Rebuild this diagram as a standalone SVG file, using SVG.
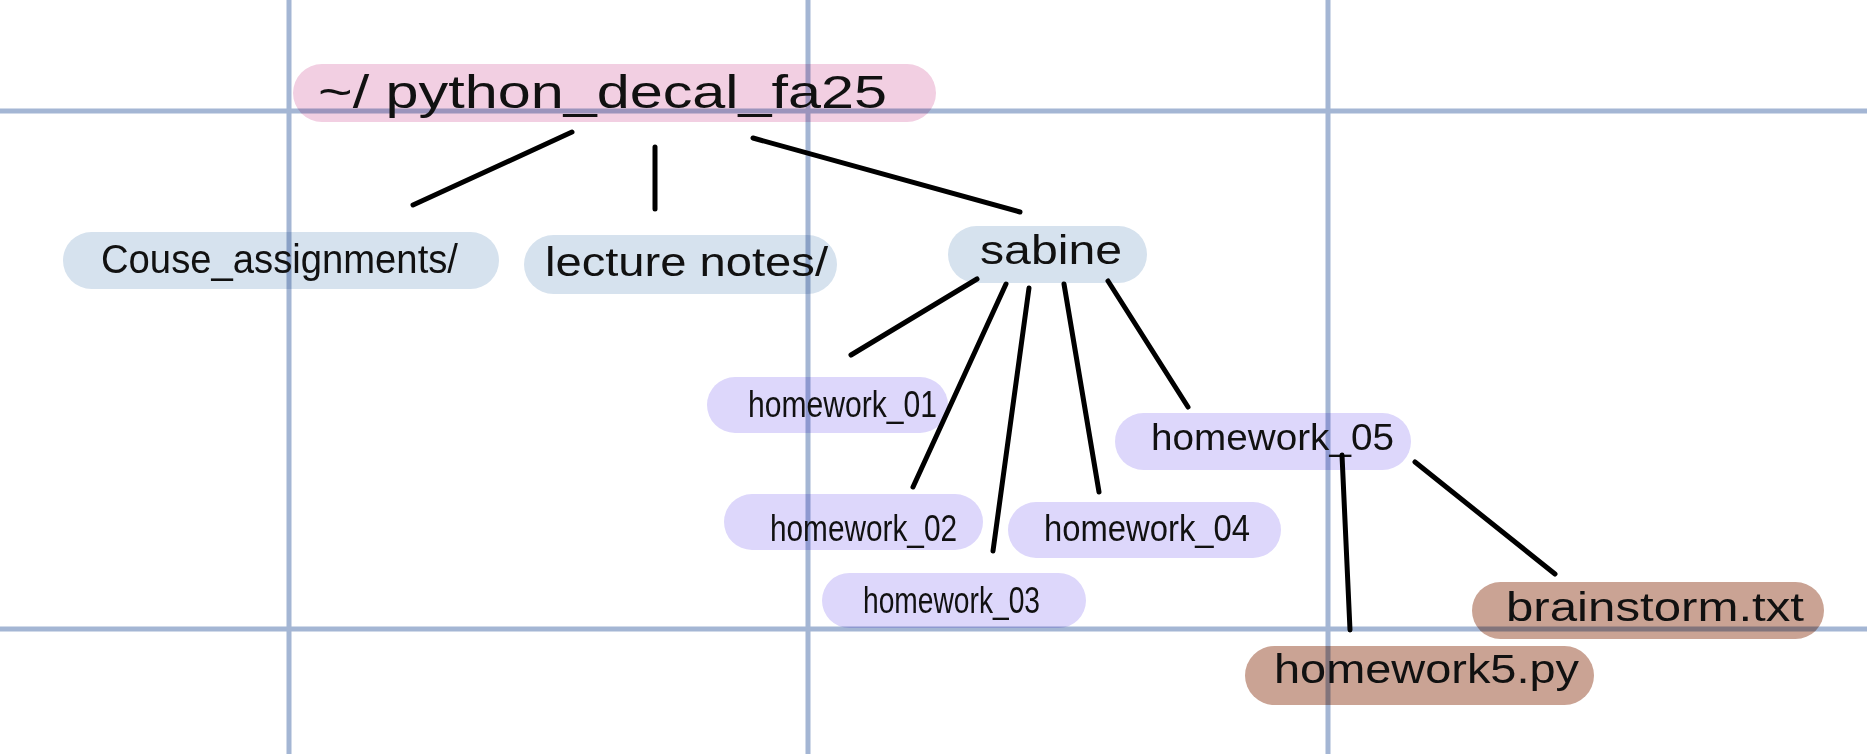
<svg xmlns="http://www.w3.org/2000/svg" width="1867" height="754" viewBox="0 0 1867 754">
<style>
.grid{stroke:#a4b6d4;stroke-width:5}
.pill{mix-blend-mode:multiply}
.root{fill:#f2cfe2}
.dir{fill:#d6e2ee}
.hw{fill:#ddd7fb}
.file{fill:#caa394}
.t{font-family:"Liberation Sans","DejaVu Sans",sans-serif;fill:#111;}
.conn{stroke:#000;stroke-width:5;stroke-linecap:round;fill:none}
</style>
<rect width="1867" height="754" fill="#ffffff"/>
<g id="grid">
<line class="grid" x1="289" y1="0" x2="289" y2="754"/>
<line class="grid" x1="808" y1="0" x2="808" y2="754"/>
<line class="grid" x1="1328" y1="0" x2="1328" y2="754"/>
<line class="grid" x1="0" y1="111" x2="1867" y2="111"/>
<line class="grid" x1="0" y1="629" x2="1867" y2="629"/>
</g>
<g id="node-root">
<rect class="pill root" x="293" y="64" width="643" height="58" rx="29"/>
<text class="t" x="318" y="108" font-size="46" textLength="569" lengthAdjust="spacingAndGlyphs">~/ python_decal_fa25</text>
</g>
<g id="node-course">
<rect class="pill dir" x="63" y="232" width="436" height="57" rx="28.5"/>
<text class="t" x="101" y="273" font-size="40" textLength="357" lengthAdjust="spacingAndGlyphs">Couse_assignments/</text>
</g>
<g id="node-lecture">
<rect class="pill dir" x="524" y="235" width="313" height="59" rx="29.5"/>
<text class="t" x="545" y="276" font-size="40" textLength="283" lengthAdjust="spacingAndGlyphs">lecture notes/</text>
</g>
<g id="node-sabine">
<rect class="pill dir" x="948" y="226" width="199" height="57" rx="28.5"/>
<text class="t" x="980" y="264" font-size="40" textLength="142" lengthAdjust="spacingAndGlyphs">sabine</text>
</g>
<g id="node-hw01">
<rect class="pill hw" x="707" y="377" width="241" height="56" rx="28"/>
<text class="t" x="748" y="417" font-size="36" textLength="189" lengthAdjust="spacingAndGlyphs">homework_01</text>
</g>
<g id="node-hw02">
<rect class="pill hw" x="724" y="494" width="259" height="56" rx="28"/>
<text class="t" x="770" y="541" font-size="36" textLength="187" lengthAdjust="spacingAndGlyphs">homework_02</text>
</g>
<g id="node-hw03">
<rect class="pill hw" x="822" y="573" width="264" height="55" rx="27.5"/>
<text class="t" x="863" y="613" font-size="36" textLength="177" lengthAdjust="spacingAndGlyphs">homework_03</text>
</g>
<g id="node-hw04">
<rect class="pill hw" x="1008" y="502" width="273" height="56" rx="28"/>
<text class="t" x="1044" y="541" font-size="36" textLength="206" lengthAdjust="spacingAndGlyphs">homework_04</text>
</g>
<g id="node-hw05">
<rect class="pill hw" x="1115" y="413" width="296" height="57" rx="28.5"/>
<text class="t" x="1151" y="450" font-size="36" textLength="243" lengthAdjust="spacingAndGlyphs">homework_05</text>
</g>
<g id="node-brainstorm">
<rect class="pill file" x="1472" y="582" width="352" height="57" rx="28.5"/>
<text class="t" x="1506" y="621" font-size="40" textLength="298" lengthAdjust="spacingAndGlyphs">brainstorm.txt</text>
</g>
<g id="node-hw5py">
<rect class="pill file" x="1245" y="646" width="349" height="59" rx="29.5"/>
<text class="t" x="1274" y="683" font-size="40" textLength="305" lengthAdjust="spacingAndGlyphs">homework5.py</text>
</g>
<g id="connectors">
<line class="conn" x1="572" y1="132" x2="413" y2="205"/>
<line class="conn" x1="655" y1="147" x2="655" y2="209"/>
<line class="conn" x1="753" y1="138" x2="1020" y2="212"/>
<line class="conn" x1="977" y1="279" x2="851" y2="355"/>
<line class="conn" x1="1006" y1="284" x2="913" y2="487"/>
<line class="conn" x1="1029" y1="288" x2="993" y2="551"/>
<line class="conn" x1="1064" y1="284" x2="1099" y2="492"/>
<line class="conn" x1="1108" y1="281" x2="1188" y2="407"/>
<line class="conn" x1="1342" y1="455" x2="1350" y2="630"/>
<line class="conn" x1="1415" y1="462" x2="1555" y2="574"/>
</g>
</svg>
